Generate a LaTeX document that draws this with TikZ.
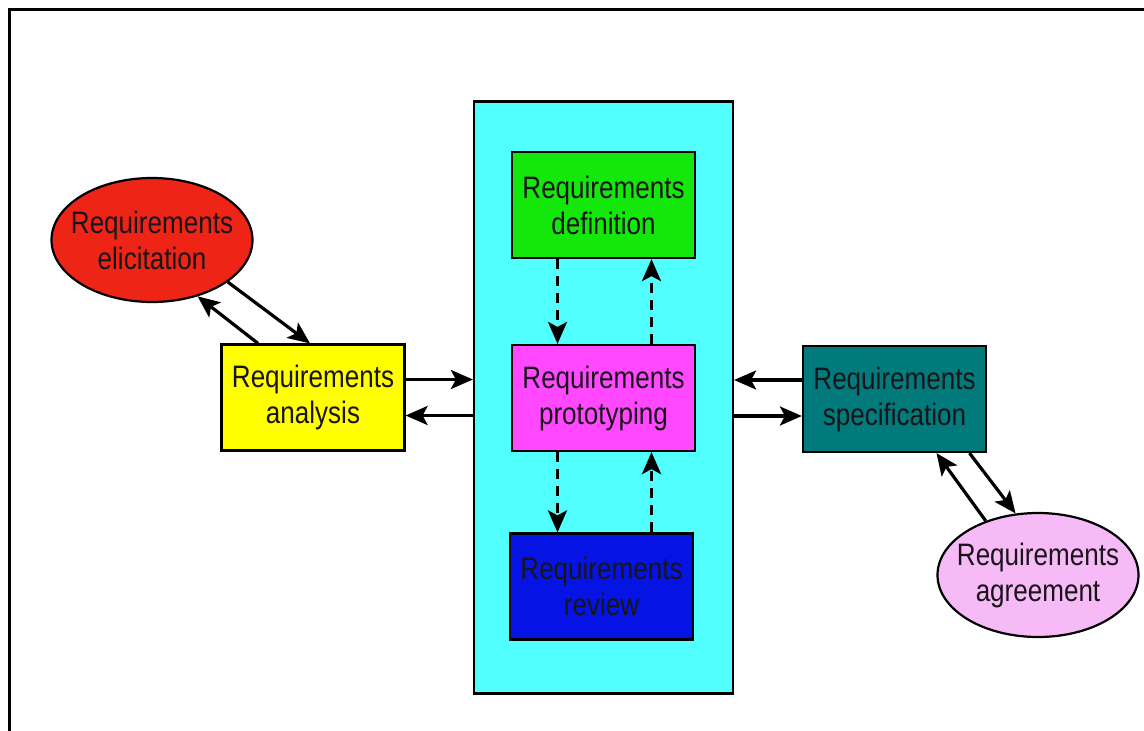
\documentclass[tikz,border=0pt]{standalone}
\usepackage{fontspec}
\setmainfont{Liberation Sans}[FakeStretch=0.84]
\usetikzlibrary{arrows.meta,shapes.geometric}
\definecolor{cRed}{RGB}{238,36,22}
\definecolor{cYellow}{RGB}{255,255,0}
\definecolor{cGreen}{RGB}{20,232,10}
\definecolor{cMagenta}{RGB}{255,72,255}
\definecolor{cBlue}{RGB}{5,20,228}
\definecolor{cTeal}{RGB}{0,122,122}
\definecolor{cPink}{RGB}{246,186,246}
\definecolor{cCyan}{RGB}{82,255,255}
\definecolor{cText}{RGB}{25,20,25}
\tikzset{
  lbl/.style={font=\fontsize{31}{36}\selectfont, text=cText, align=center, inner sep=0pt},
  rbox/.style={lbl, draw=black, line width=2.2pt, minimum width=183pt, minimum height=106pt},
  ebox/.style={ellipse, draw=black, line width=2.2pt, minimum width=201pt, minimum height=124pt, inner sep=0pt},
  tip/.style={-{Stealth[length=22pt,width=19pt,inset=5pt]}},
  arr/.style={line width=3.2pt, tip},
  darr/.style={line width=3.2pt, dash pattern=on 10pt off 7pt, tip}
}
\begin{document}
\begin{tikzpicture}[x=1pt,y=-1pt]
\useasboundingbox (0,0) rectangle (1144,731);
\fill[white] (0,0) rectangle (1144,731);
% outer frame (left and top edges visible)
\draw[line width=3pt] (9,740) -- (9,9) -- (1150,9);

\node[draw=black, line width=2.2pt, fill=cCyan, minimum width=259pt, minimum height=592pt, inner sep=0pt] (panel) at (603.5,397.5) {};

\node[ebox, fill=cRed] (eli) at (152,240) {};
\node[lbl] (elit) at (eli) {Requirements\\elicitation};
\node[rbox, fill=cYellow] (ana) at (313,397.5) {Requirements\\analysis};
\node[rbox, fill=cGreen] (def) at (603.5,205) {Requirements\\definition};
\node[rbox, fill=cMagenta] (pro) at (603.5,398) {Requirements\\prototyping};
\node[rbox, fill=cBlue] (rev) at (601.5,586.5) {Requirements\\review};
\node[rbox, fill=cTeal] (spe) at (894.5,399) {Requirements\\specification};
\node[ebox, fill=cPink] (agr) at (1038,575) {};
\node[lbl] (agrt) at (agr) {Requirements\\agreement};

% elicitation <-> analysis
\draw[arr] ([xshift=-55pt]ana.north) -- (eli.-51);
\draw[arr] (eli.-29) -- ([xshift=-3pt]ana.north);

% analysis <-> panel
\draw[arr] ([yshift=18pt]ana.east) -- ([yshift=18pt]ana.east -| panel.west);
\draw[arr] ([yshift=-18pt]ana.east -| panel.west) -- ([yshift=-18pt]ana.east);

% specification <-> panel
\draw[arr] ([yshift=19pt]spe.west) -- ([yshift=19pt]spe.west -| panel.east);
\draw[arr] ([yshift=-17pt]spe.west -| panel.east) -- ([yshift=-17pt]spe.west);

% specification <-> agreement
\draw[arr] (agr.134) -- ([xshift=42pt]spe.south);
\draw[arr] ([xshift=75pt]spe.south) -- (agr.110);

% dashed arrows inside panel
\draw[darr] ([xshift=-46pt]def.south) -- ([xshift=-46pt]def.south |- pro.north);
\draw[darr] ([xshift=48pt]def.south |- pro.north) -- ([xshift=48pt]def.south);
\draw[darr] ([xshift=-46pt]pro.south) -- ([xshift=-46pt]pro.south |- rev.north);
\draw[darr] ([xshift=48pt]pro.south |- rev.north) -- ([xshift=48pt]pro.south);
\end{tikzpicture}
\end{document}
